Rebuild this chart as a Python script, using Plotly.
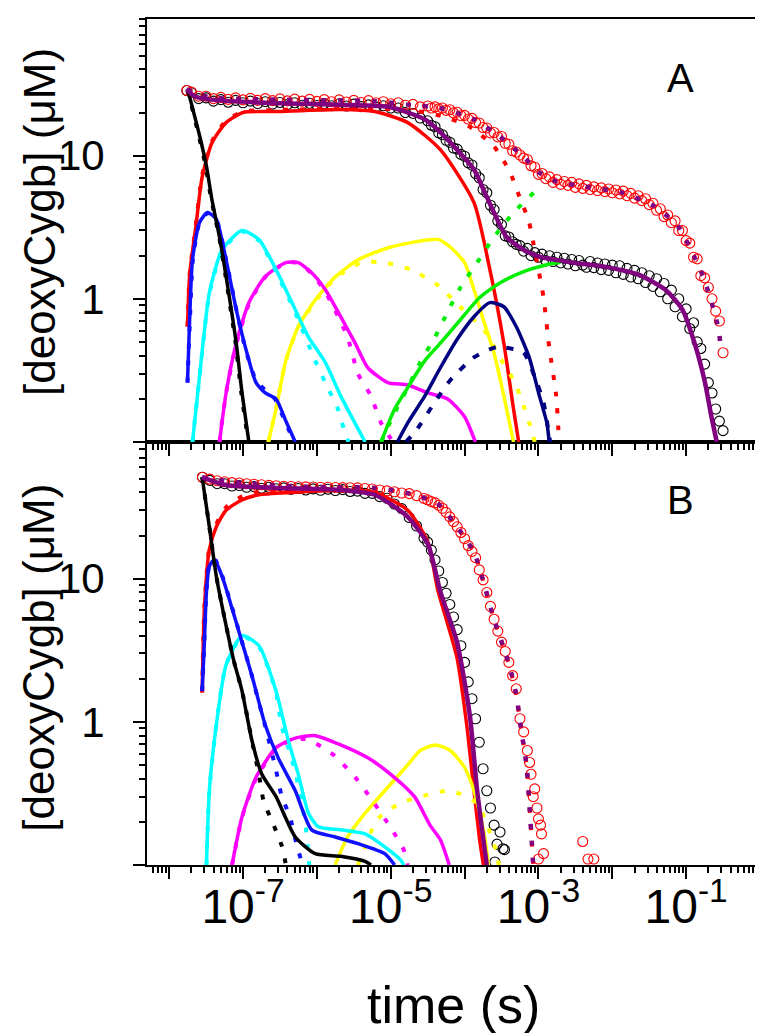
import plotly.graph_objects as go

# ---------------- Panel A data ----------------
t_A_data = [1.74e-8, 2.00e-8, 2.51e-8, 3.16e-8, 3.98e-8, 5.01e-8, 6.31e-8, 7.94e-8,
            1.00e-7, 1.26e-7, 1.58e-7, 2.00e-7, 2.51e-7, 3.16e-7, 3.98e-7, 5.01e-7, 6.31e-7, 7.94e-7,
            1.00e-6, 1.26e-6, 1.58e-6, 2.00e-6, 2.51e-6, 3.16e-6, 3.98e-6, 5.01e-6, 6.31e-6, 7.94e-6,
            1.00e-5, 1.26e-5, 1.58e-5, 2.00e-5, 2.51e-5, 3.16e-5, 3.55e-5, 3.98e-5, 4.47e-5, 5.01e-5,
            5.62e-5, 6.31e-5, 7.08e-5, 7.94e-5, 8.91e-5,
            1.00e-4, 1.12e-4, 1.26e-4, 1.41e-4, 1.58e-4, 1.78e-4, 2.00e-4, 2.24e-4, 2.51e-4, 2.82e-4,
            3.16e-4, 3.55e-4, 3.98e-4, 4.47e-4, 5.01e-4, 5.62e-4, 6.31e-4, 7.08e-4, 7.94e-4, 8.91e-4,
            1.00e-3, 1.12e-3, 1.26e-3, 1.41e-3, 1.58e-3, 1.78e-3, 2.00e-3, 2.24e-3, 2.51e-3, 2.82e-3,
            3.16e-3, 3.55e-3, 3.98e-3, 4.47e-3, 5.01e-3, 5.62e-3, 6.31e-3, 7.08e-3, 7.94e-3, 8.91e-3,
            1.00e-2, 1.12e-2, 1.26e-2, 1.41e-2, 1.58e-2, 1.78e-2, 2.00e-2, 2.24e-2, 2.51e-2, 2.82e-2,
            3.16e-2, 3.55e-2, 3.98e-2, 4.47e-2, 5.01e-2, 5.62e-2, 6.31e-2, 7.08e-2, 7.94e-2, 8.91e-2,
            1.00e-1, 1.12e-1, 1.26e-1, 1.41e-1, 1.58e-1, 1.78e-1, 2.00e-1, 2.24e-1, 2.51e-1, 2.82e-1,
            3.16e-1]

v_A_black_data = [28.5, 27.5, 25.0, 25.3, 24.0, 24.6, 23.6, 24.3,
                  23.4, 24.0, 23.1, 23.8, 22.9, 23.5, 22.7, 23.4, 22.5, 23.2,
                  22.4, 23.1, 22.3, 23.0, 22.2, 22.9, 22.0, 22.6, 21.8, 22.3,
                  21.5, 21.5, 20.0, 19.7, 18.3, 17.5, 16.3, 15.9, 14.4, 14.0,
                  12.8, 12.4, 11.3, 11.1, 10.2,
                  9.9, 8.9, 8.6, 7.5, 7.0, 5.8, 5.5, 4.5, 4.2, 3.5,
                  3.3, 2.75, 2.7, 2.5, 2.4, 2.35, 2.15, 2.25, 2.0, 2.1,
                  1.95, 2.05, 1.85, 2.0, 1.82, 1.95, 1.78, 1.92, 1.75, 1.88,
                  1.7, 1.85, 1.72, 1.66, 1.82, 1.65, 1.78, 1.60, 1.75, 1.58,
                  1.72, 1.52, 1.70, 1.48, 1.63, 1.42, 1.58, 1.38, 1.52, 1.30,
                  1.45, 1.22, 1.38, 1.12, 1.28, 1.0, 1.15, 0.88, 1.0, 0.75,
                  0.85, 0.62, 0.68, 0.5, 0.45, 0.35, 0.26, 0.22, 0.17, 0.14,
                  0.12]

v_A_red_data = [28.5, 27.8, 26.0, 26.0, 25.0, 25.5, 24.7, 25.3,
                24.5, 25.1, 24.3, 25.0, 24.2, 24.9, 24.1, 24.8, 24.0, 24.7,
                23.9, 24.6, 23.8, 24.5, 23.7, 24.3, 23.5, 24.2, 23.4, 23.8,
                23.0, 23.4, 22.5, 22.8, 21.9, 22.2, 21.5, 21.9, 21.2, 21.5,
                20.7, 20.9, 19.9, 20.1, 19.0,
                19.1, 18.0, 18.2, 17.0, 16.9, 15.7, 15.6, 14.4, 14.5, 13.5,
                13.6, 12.2, 12.0, 10.8, 10.6, 10.1, 9.6, 9.4, 8.5, 8.3,
                7.4, 7.5, 6.9, 7.1, 6.5, 6.8, 6.3, 6.6, 6.2, 6.5,
                6.0, 6.35, 5.9, 6.2, 5.8, 6.05, 5.7, 5.95, 5.6, 5.85,
                5.5, 5.75, 5.4, 5.65, 5.25, 5.45, 5.05, 5.25, 4.85, 5.0,
                4.55, 4.65, 4.15, 4.25, 3.75, 3.85, 3.4, 3.5, 3.0, 3.0,
                2.55, 2.45, 1.95, 1.9, 1.45, 1.4, 1.2, 1.0, 0.82, 0.7,
                0.42]

t_A_fit_black = [1.72e-8, 2.2e-8, 3.5e-8, 1.6e-7, 2.0e-6, 9.1e-6, 1.7e-5, 2.9e-5, 4.3e-5, 7.9e-5,
                 1.34e-4, 1.8e-4, 2.5e-4, 3.7e-4, 6.3e-4, 1.03e-3, 2.9e-3, 8.1e-3, 2.3e-2, 5.2e-2,
                 8.9e-2, 0.13, 0.18, 0.22, 0.26]
v_A_fit_black = [29, 26, 24.7, 23.5, 22.7, 22, 20, 17.9, 15.2, 11,
                 8.0, 5.8, 4.0, 2.7, 2.2, 1.97, 1.79, 1.67, 1.47, 1.16,
                 0.84, 0.49, 0.26, 0.15, 0.1]

t_A_fit_red = [1.72e-8, 3.5e-8, 2.8e-7, 6.1e-6, 1.7e-5, 4.7e-5, 1.34e-4, 3.0e-4, 6.3e-4, 1.03e-3,
               1.74e-3, 4.0e-3, 1.38e-2, 3.8e-2, 7.8e-2, 0.12, 0.17, 0.22, 0.27, 0.30]
v_A_fit_red = [29, 25.5, 24.6, 24, 22.7, 21.5, 17.9, 13.6, 9.8, 7.6,
               6.6, 6.1, 5.5, 4.4, 3.2, 2.13, 1.43, 0.95, 0.64, 0.43]

t_A_black = [1.78e-8, 2.6e-8, 3.2e-8, 3.8e-8, 4.8e-8, 5.9e-8, 8.1e-8, 9.7e-8, 1.2e-7]
v_A_black = [29, 13.6, 8.4, 4.9, 2.7, 1.43, 0.49, 0.22, 0.1]
t_A_black_dot = [1.78e-8, 2.5e-8, 3.1e-8, 3.7e-8, 4.7e-8, 5.8e-8, 7.9e-8, 9.5e-8, 1.18e-7]
v_A_black_dot = [29, 14, 8.6, 5.0, 2.8, 1.45, 0.5, 0.22, 0.1]

t_A_red = [1.77e-8, 1.9e-8, 2.3e-8, 2.8e-8, 3.8e-8, 5.9e-8, 1.0e-7, 2.8e-7, 2.1e-6, 6.1e-6,
           1.7e-5, 4.7e-5, 1.34e-4, 2.2e-4, 3.4e-4, 4.6e-4, 5.4e-4]
v_A_red = [0.64, 1.5, 3.2, 7.1, 12.3, 17, 20, 20.3, 21, 20.3,
           17, 11, 4.7, 1.6, 0.49, 0.17, 0.1]
t_A_red_dot = [1.77e-8, 1.9e-8, 2.3e-8, 2.8e-8, 3.8e-8, 5.9e-8, 1.0e-7, 2.8e-7, 2.1e-6, 1.2e-5,
               3.0e-5, 5.2e-5, 1.15e-4, 2.5e-4, 4.1e-4, 5.5e-4, 7.4e-4, 8.6e-4, 1.0e-3, 1.17e-3,
               1.4e-3, 1.74e-3, 1.9e-3]
v_A_red_dot = [0.64, 1.5, 3.3, 7.3, 12.6, 17.5, 20.3, 20.8, 21.3, 21,
               20, 18.7, 16, 11.6, 7.7, 5.2, 3.5, 2.4, 1.6, 1.03,
               0.46, 0.21, 0.1]

t_A_blue = [1.77e-8, 1.88e-8, 2.07e-8, 2.57e-8, 3.3e-8, 4.35e-8, 5.9e-8, 8.1e-8, 1.1e-7, 1.5e-7,
            2.0e-7, 2.8e-7, 3.8e-7, 5.1e-7]
v_A_blue = [0.26, 0.64, 1.87, 3.4, 4.0, 3.6, 1.87, 0.84, 0.44, 0.26,
            0.22, 0.20, 0.14, 0.1]
t_A_blue_dot = [1.77e-8, 1.9e-8, 2.1e-8, 2.6e-8, 3.3e-8, 4.4e-8, 6.0e-8, 8.2e-8, 1.1e-7, 1.5e-7,
                2.0e-7, 2.7e-7, 3.7e-7, 4.9e-7]
v_A_blue_dot = [0.26, 0.66, 1.9, 3.45, 3.95, 3.5, 1.8, 0.82, 0.43, 0.27,
                0.23, 0.2, 0.14, 0.1]

t_A_cyan = [2.07e-8, 2.57e-8, 3.5e-8, 5.2e-8, 9.7e-8, 1.64e-7, 2.8e-7, 5.1e-7, 7.7e-7, 1.3e-6,
            2.1e-6, 4.5e-6]
v_A_cyan = [0.1, 0.285, 1.1, 2.2, 3.0, 2.6, 1.6, 0.84, 0.54, 0.36,
            0.21, 0.1]
t_A_cyan_dot = [2.07e-8, 2.57e-8, 3.5e-8, 5.2e-8, 9.7e-8, 1.64e-7, 2.8e-7, 5.1e-7, 9.5e-7, 1.3e-6,
                1.93e-6, 2.5e-6, 2.7e-6]
v_A_cyan_dot = [0.1, 0.28, 1.08, 2.15, 2.95, 2.55, 1.55, 0.8, 0.37, 0.26,
                0.17, 0.108, 0.1]

t_A_magenta = [4.8e-8, 5.9e-8, 8.1e-8, 1.2e-7, 2.0e-7, 3.8e-7, 5.6e-7, 8.5e-7, 1.3e-6, 2.1e-6,
               3.3e-6, 4.9e-6, 9.1e-6, 1.7e-5, 3.2e-5, 5.9e-5, 1.0e-4, 1.4e-4]
v_A_magenta = [0.1, 0.22, 0.49, 0.94, 1.43, 1.79, 1.79, 1.52, 1.16, 0.75,
               0.49, 0.33, 0.26, 0.25, 0.22, 0.20, 0.15, 0.1]
t_A_magenta_dot = [4.8e-8, 5.9e-8, 8.1e-8, 1.2e-7, 2.0e-7, 3.8e-7, 5.6e-7, 8.5e-7, 1.3e-6, 2.6e-6,
                   3.6e-6, 5.4e-6, 7.4e-6, 1.07e-5]
v_A_magenta_dot = [0.1, 0.22, 0.48, 0.92, 1.42, 1.78, 1.78, 1.5, 1.12, 0.54,
                   0.30, 0.21, 0.136, 0.1]

t_A_yellow = [2.2e-7, 2.8e-7, 3.8e-7, 5.6e-7, 9.5e-7, 1.8e-6, 3.6e-6, 1.0e-5, 4.3e-5, 6.4e-5,
              1.0e-4, 1.34e-4, 1.8e-4, 2.5e-4, 3.4e-4, 4.6e-4]
v_A_yellow = [0.1, 0.17, 0.37, 0.64, 0.98, 1.43, 1.87, 2.3, 2.6, 2.3,
              1.79, 1.16, 0.71, 0.42, 0.21, 0.1]
t_A_yellow_dot = [2.2e-7, 2.8e-7, 3.8e-7, 5.6e-7, 9.5e-7, 1.8e-6, 4.0e-6, 8.3e-6, 1.86e-5, 4.3e-5,
                  8.7e-5, 1.9e-4, 3.0e-4, 4.8e-4, 6.3e-4, 8.1e-4, 8.9e-4]
v_A_yellow_dot = [0.1, 0.17, 0.37, 0.63, 0.96, 1.4, 1.79, 1.79, 1.6, 1.25,
                  0.88, 0.59, 0.39, 0.26, 0.18, 0.12, 0.1]

t_A_green = [7.4e-6, 1.13e-5, 1.7e-5, 2.9e-5, 4.7e-5, 8.7e-5, 1.6e-4, 3.0e-4, 6.3e-4, 1.3e-3, 2.0e-3]
v_A_green = [0.1, 0.17, 0.24, 0.37, 0.49, 0.71, 1.02, 1.29, 1.55, 1.73, 1.8]
t_A_green_dot = [7.4e-6, 1.13e-5, 1.7e-5, 2.5e-5, 3.9e-5, 5.9e-5, 8.7e-5, 1.48e-4, 2.5e-4, 4.6e-4, 8.9e-4]
v_A_green_dot = [0.1, 0.16, 0.24, 0.36, 0.53, 0.81, 1.19, 1.79, 2.7, 4.0, 5.6]

t_A_navy = [1.23e-5, 1.7e-5, 2.9e-5, 4.7e-5, 7.9e-5, 1.34e-4, 2.2e-4, 3.4e-4, 5.0e-4, 7.5e-4,
            1.03e-3, 1.3e-3, 1.4e-3]
v_A_navy = [0.1, 0.136, 0.21, 0.33, 0.52, 0.75, 0.94, 0.88, 0.64, 0.39,
            0.21, 0.136, 0.1]
t_A_navy_dash = [1.6e-5, 2.2e-5, 3.7e-5, 6.4e-5, 1.34e-4, 2.75e-4, 6.3e-4, 8.9e-4, 1.17e-3, 1.35e-3, 1.44e-3]
v_A_navy_dash = [0.1, 0.12, 0.18, 0.27, 0.39, 0.46, 0.42, 0.285, 0.19, 0.125, 0.1]

# ---------------- Panel B data ----------------
t_B_black_data = [2.82e-8, 3.55e-8, 4.47e-8, 5.62e-8, 7.08e-8, 8.91e-8,
                  1.12e-7, 1.41e-7, 1.78e-7, 2.24e-7, 2.82e-7, 3.55e-7, 4.47e-7, 5.62e-7, 7.08e-7, 8.91e-7,
                  1.12e-6, 1.41e-6, 1.78e-6, 2.24e-6, 2.82e-6, 3.55e-6, 4.47e-6, 5.62e-6, 7.08e-6, 8.91e-6,
                  1.12e-5, 1.41e-5, 1.78e-5, 2.24e-5, 2.82e-5,
                  3.16e-5, 3.55e-5, 3.98e-5, 4.47e-5, 5.01e-5, 5.62e-5, 6.31e-5, 7.08e-5, 7.94e-5, 8.91e-5,
                  1.00e-4, 1.12e-4, 1.26e-4, 1.41e-4, 1.58e-4, 1.78e-4, 2.00e-4, 2.24e-4, 2.51e-4,
                  2.57e-4, 2.75e-4, 3.02e-4, 3.31e-4, 3.47e-4]
v_B_black_data = [51, 48.5, 46, 46, 44.3, 44.7,
                  43.4, 43.9, 42.8, 43.4, 42.4, 43.0, 42.0, 42.6, 41.6, 42.3,
                  41.4, 42.1, 41.2, 41.8, 40.6, 40.8, 39.4, 39.4, 37.4, 36.4,
                  33.2, 30.8, 26.7, 23.3, 19.2,
                  18.0, 15.8, 13.5, 11.3, 9.4, 7.9, 6.6, 5.4, 4.4, 3.4,
                  2.6, 1.9, 1.45, 1.05, 0.72, 0.47, 0.33, 0.25, 0.19,
                  0.105, 0.14, 0.17, 0.13, 0.128]

t_B_red_data = [2.82e-8, 3.55e-8, 4.47e-8, 5.62e-8, 7.08e-8, 8.91e-8,
                1.12e-7, 1.41e-7, 1.78e-7, 2.24e-7, 2.82e-7, 3.55e-7, 4.47e-7, 5.62e-7, 7.08e-7, 8.91e-7,
                1.12e-6, 1.41e-6, 1.78e-6, 2.24e-6, 2.82e-6, 3.55e-6, 4.47e-6, 5.62e-6, 7.08e-6, 8.91e-6,
                1.12e-5, 1.41e-5, 1.78e-5, 2.24e-5, 2.82e-5,
                3.16e-5, 3.55e-5, 3.98e-5, 4.47e-5, 5.01e-5, 5.62e-5, 6.31e-5, 7.08e-5, 7.94e-5, 8.91e-5,
                1.00e-4, 1.12e-4, 1.26e-4, 1.41e-4, 1.58e-4, 1.78e-4, 2.00e-4, 2.24e-4, 2.51e-4,
                2.82e-4, 3.16e-4, 3.55e-4, 3.98e-4, 4.47e-4, 5.01e-4, 5.62e-4, 6.31e-4, 7.08e-4,
                7.59e-4, 7.94e-4, 8.51e-4, 8.91e-4, 9.55e-4, 1.00e-3, 1.07e-3, 1.10e-3, 1.17e-3,
                1.00e-3, 3.98e-3, 4.68e-3, 5.62e-3]
v_B_red_data = [51, 49.5, 48.2, 47.5, 46.8, 46.5,
                46.0, 45.6, 45.2, 44.8, 44.5, 44.2, 44.0, 43.8, 43.7, 43.6,
                43.5, 43.4, 43.3, 43.2, 43.1, 43.0, 42.6, 42.2, 41.6, 41.0,
                40.4, 39.6, 39.2, 38.0, 36.3,
                35.5, 34.5, 33.8, 32.5, 31.0, 29.0, 27.0, 25.0, 23.0, 21.0,
                19.0, 17.0, 15.5, 14.0, 11.5, 9.8, 8.0, 6.4, 5.2,
                4.3, 3.6, 3.1, 2.6, 2.1, 1.7, 1.05, 0.85, 0.63,
                0.52, 0.43, 0.3, 0.34, 0.25, 0.21, 0.19, 0.165, 0.12,
                0.11, 0.146, 0.11, 0.11]

t_B_fit_black = [2.8e-8, 5.9e-8, 2.8e-7, 2.1e-6, 6.1e-6, 1.7e-5, 3.2e-5, 4.7e-5, 7.9e-5, 1.18e-4,
                 1.48e-4, 1.8e-4, 2.0e-4]
v_B_fit_black = [51, 45, 43, 41.6, 38.5, 27, 17.3, 8.1, 3.6, 1.1,
                 0.33, 0.15, 0.1]

t_B_fit_red = [2.8e-8, 9.7e-8, 7.7e-7, 6.1e-6, 1.7e-5, 4.3e-5, 7.9e-5, 1.34e-4, 1.8e-4, 2.5e-4,
               3.4e-4, 4.1e-4, 5.0e-4, 5.9e-4, 6.9e-4, 7.6e-4, 8.1e-4, 8.5e-4]
v_B_fit_red = [51, 46.5, 43.7, 43, 39.5, 33.5, 23, 15.3, 9.5, 5.2,
               3.25, 2.4, 1.55, 0.85, 0.5, 0.25, 0.15, 0.1]

t_B_black = [2.8e-8, 3.5e-8, 4.35e-8, 5.9e-8, 7.6e-8, 9.7e-8, 1.32e-7, 1.8e-7, 2.8e-7, 5.1e-7,
             9.5e-7, 2.1e-6, 4.5e-6, 5.4e-6]
v_B_black = [51, 23, 10.4, 4.7, 2.6, 1.64, 0.74, 0.43, 0.30, 0.157,
             0.12, 0.115, 0.106, 0.1]
t_B_black_dot = [2.8e-8, 3.5e-8, 4.35e-8, 5.9e-8, 7.6e-8, 9.7e-8, 1.32e-7, 1.64e-7, 1.9e-7, 2.6e-7,
                 3.45e-7, 3.8e-7]
v_B_black_dot = [51, 23, 10.4, 4.7, 2.6, 1.64, 0.74, 0.43, 0.28, 0.19,
                 0.13, 0.1]

t_B_red = [2.8e-8, 3.0e-8, 3.5e-8, 4.35e-8, 5.9e-8, 9.7e-8, 1.64e-7, 4.6e-7, 2.1e-6, 6.1e-6,
           1.7e-5, 3.2e-5, 4.3e-5, 7.9e-5, 1.07e-4, 1.34e-4, 1.6e-4, 1.8e-4]
v_B_red = [1.6, 6.2, 16, 23, 30, 35.5, 38.5, 40, 41.6, 40,
           30, 17.9, 8.5, 2.8, 0.95, 0.33, 0.15, 0.1]
t_B_red_dot = [2.8e-8, 3.0e-8, 3.5e-8, 4.35e-8, 5.9e-8, 9.7e-8, 1.64e-7, 4.6e-7, 2.1e-6, 6.1e-6,
               1.7e-5, 4.3e-5, 7.9e-5, 1.34e-4, 1.8e-4, 2.5e-4, 3.4e-4, 4.1e-4, 5.0e-4, 5.9e-4,
               6.9e-4, 7.6e-4, 8.1e-4, 8.5e-4]
v_B_red_dot = [1.6, 6.3, 16.5, 24, 31.5, 37.5, 40.5, 42, 43, 42.5,
               39.5, 33.5, 23, 15.3, 9.5, 5.2, 3.25, 2.4, 1.55, 0.85,
               0.5, 0.25, 0.15, 0.1]

t_B_blue = [2.8e-8, 3.0e-8, 3.2e-8, 3.5e-8, 4.1e-8, 5.2e-8, 7.1e-8, 9.7e-8, 1.32e-7, 1.5e-7,
            2.0e-7, 3.0e-7, 5.1e-7, 8.5e-7, 1.77e-6, 3.6e-6, 8.3e-6, 1.13e-5]
v_B_blue = [1.64, 3.6, 8.1, 12.2, 13.6, 10.4, 6.2, 3.6, 2.1, 1.64,
            0.95, 0.56, 0.33, 0.176, 0.157, 0.141, 0.12, 0.1]
t_B_blue_dot = [2.8e-8, 3.0e-8, 3.2e-8, 3.5e-8, 4.1e-8, 5.2e-8, 7.1e-8, 9.7e-8, 1.32e-7, 1.5e-7,
                2.0e-7, 2.8e-7, 3.3e-7, 4.4e-7, 5.3e-7, 6.4e-7]
v_B_blue_dot = [1.64, 3.7, 8.3, 12.4, 13.8, 10.5, 6.3, 3.6, 2.1, 1.62,
                0.93, 0.46, 0.31, 0.21, 0.14, 0.1]

t_B_cyan = [3.2e-8, 3.5e-8, 4.35e-8, 5.9e-8, 9.7e-8, 1.64e-7, 2.8e-7, 4.1e-7, 5.6e-7, 7.7e-7,
            1.05e-6, 2.1e-6, 4.5e-6, 8.3e-6, 1.35e-5, 1.5e-5]
v_B_cyan = [0.1, 0.33, 0.95, 2.5, 4.0, 3.4, 1.64, 0.74, 0.43, 0.23,
            0.185, 0.176, 0.165, 0.134, 0.109, 0.1]
t_B_cyan_dot = [3.2e-8, 3.5e-8, 4.35e-8, 5.9e-8, 9.7e-8, 1.64e-7, 2.8e-7, 3.3e-7, 4.4e-7, 5.3e-7,
                6.2e-7, 7.2e-7, 7.9e-7]
v_B_cyan_dot = [0.1, 0.33, 0.95, 2.5, 3.95, 3.35, 1.6, 0.95, 0.59, 0.41,
                0.28, 0.17, 0.1]

t_B_magenta = [7.1e-8, 9.7e-8, 1.5e-7, 2.8e-7, 5.1e-7, 9.5e-7, 2.1e-6, 4.9e-6, 1.0e-5, 2.1e-5,
               3.4e-5, 4.7e-5, 6.2e-5]
v_B_magenta = [0.1, 0.217, 0.41, 0.66, 0.77, 0.80, 0.69, 0.56, 0.43, 0.30,
               0.19, 0.15, 0.1]
t_B_magenta_dot = [7.1e-8, 9.7e-8, 1.5e-7, 2.8e-7, 5.1e-7, 7.7e-7, 1.66e-6, 3.3e-6, 5.7e-6, 9.8e-6,
                   1.5e-5, 1.7e-5]
v_B_magenta_dot = [0.1, 0.215, 0.4, 0.65, 0.76, 0.75, 0.59, 0.41, 0.28, 0.185,
                   0.128, 0.1]

t_B_yellow = [1.77e-6, 2.6e-6, 4.5e-6, 8.3e-6, 1.7e-5, 2.5e-5, 4.0e-5, 6.4e-5, 1.0e-4, 1.34e-4,
              1.6e-4, 1.9e-4, 2.1e-4]
v_B_yellow = [0.1, 0.157, 0.23, 0.33, 0.50, 0.63, 0.69, 0.63, 0.48, 0.33,
              0.23, 0.15, 0.1]
t_B_yellow_dot = [3.6e-6, 6.7e-6, 1.35e-5, 3.2e-5, 6.4e-5, 1.48e-4, 2.1e-4, 2.75e-4, 2.9e-4]
v_B_yellow_dot = [0.1, 0.21, 0.27, 0.31, 0.33, 0.27, 0.18, 0.12, 0.1]

# ---------------- axis labels ----------------
x_tick_exponents = [-8, -7, -6, -5, -4, -3, -2, -1, 0]
x_labeled_exponents = [-7, -5, -3, -1]
y_tick_values = [0.1, 1, 10]
y_tick_labels = ["", "1", "10"]
y_title = "[deoxyCygb] (μM)"
x_title = "time (s)"
panel_labels = ["A", "B"]

# ---------------- styling ----------------
FONT = "Liberation Sans, Arial, sans-serif"
C_BLACK = "#000000"
C_RED = "#ff0000"
C_BLUE = "#1010ff"
C_CYAN = "#00ffff"
C_MAGENTA = "#ff00ff"
C_YELLOW = "#ffff00"
C_GREEN = "#00ee00"
C_NAVY = "#000080"
C_PURPLE = "#800080"
DOT = "5px,12px"
DASH = "7px,11px"
LW = 3.5

fig = go.Figure()


def circles(t, v, color, xa, ya):
    fig.add_trace(go.Scatter(x=t, y=v, mode="markers", xaxis=xa, yaxis=ya,
                             marker=dict(symbol="circle-open", size=10, color=color,
                                         line=dict(width=1.1, color=color)),
                             showlegend=False, hoverinfo="skip"))


def curve(t, v, color, xa, ya, dash="solid", width=LW):
    fig.add_trace(go.Scatter(x=t, y=v, mode="lines", xaxis=xa, yaxis=ya,
                             line=dict(color=color, width=width, dash=dash,
                                       shape="spline", smoothing=0.6),
                             showlegend=False, hoverinfo="skip"))


# Panel A (top): x2 / y
xa, ya = "x2", "y"
circles(t_A_data, v_A_black_data, C_BLACK, xa, ya)
circles(t_A_data, v_A_red_data, C_RED, xa, ya)
curve(t_A_red, v_A_red, C_RED, xa, ya)
curve(t_A_red_dot, v_A_red_dot, C_RED, xa, ya, DOT, 4)
curve(t_A_yellow, v_A_yellow, C_YELLOW, xa, ya)
curve(t_A_yellow_dot, v_A_yellow_dot, C_YELLOW, xa, ya, DOT, 4)
curve(t_A_magenta, v_A_magenta, C_MAGENTA, xa, ya)
curve(t_A_magenta_dot, v_A_magenta_dot, C_MAGENTA, xa, ya, DOT, 4)
curve(t_A_cyan, v_A_cyan, C_CYAN, xa, ya)
curve(t_A_cyan_dot, v_A_cyan_dot, C_CYAN, xa, ya, DOT, 4)
curve(t_A_green, v_A_green, C_GREEN, xa, ya)
curve(t_A_green_dot, v_A_green_dot, C_GREEN, xa, ya, DOT, 4)
curve(t_A_navy, v_A_navy, C_NAVY, xa, ya)
curve(t_A_navy_dash, v_A_navy_dash, C_NAVY, xa, ya, DASH, 4)
curve(t_A_blue, v_A_blue, C_BLUE, xa, ya)
curve(t_A_blue_dot, v_A_blue_dot, C_BLUE, xa, ya, DOT, 4)
curve(t_A_black, v_A_black, C_BLACK, xa, ya)
curve(t_A_black_dot, v_A_black_dot, C_BLACK, xa, ya, DOT, 4)
curve(t_A_fit_black, v_A_fit_black, C_PURPLE, xa, ya, "solid", 4.5)
curve(t_A_fit_red, v_A_fit_red, C_PURPLE, xa, ya, DOT, 4.5)

# Panel B (bottom): x / y2
xa, ya = "x", "y2"
circles(t_B_black_data, v_B_black_data, C_BLACK, xa, ya)
circles(t_B_red_data, v_B_red_data, C_RED, xa, ya)
curve(t_B_red, v_B_red, C_RED, xa, ya)
curve(t_B_red_dot, v_B_red_dot, C_RED, xa, ya, DOT, 4)
curve(t_B_yellow, v_B_yellow, C_YELLOW, xa, ya)
curve(t_B_yellow_dot, v_B_yellow_dot, C_YELLOW, xa, ya, DOT, 4)
curve(t_B_magenta, v_B_magenta, C_MAGENTA, xa, ya)
curve(t_B_magenta_dot, v_B_magenta_dot, C_MAGENTA, xa, ya, DOT, 4)
curve(t_B_cyan, v_B_cyan, C_CYAN, xa, ya)
curve(t_B_cyan_dot, v_B_cyan_dot, C_CYAN, xa, ya, DOT, 4)
curve(t_B_blue, v_B_blue, C_BLUE, xa, ya)
curve(t_B_blue_dot, v_B_blue_dot, C_BLUE, xa, ya, DOT, 4)
curve(t_B_black, v_B_black, C_BLACK, xa, ya)
curve(t_B_black_dot, v_B_black_dot, C_BLACK, xa, ya, DOT, 4)
curve(t_B_fit_black, v_B_fit_black, C_PURPLE, xa, ya, "solid", 4.5)
curve(t_B_fit_red, v_B_fit_red, C_PURPLE, xa, ya, DOT, 4.5)

# ---------------- axes ----------------
x_major = [10.0 ** e for e in x_tick_exponents]
x_text = [("10<sup>%d</sup>" % e) if e in x_labeled_exponents else "" for e in x_tick_exponents]
x_minor = [k * 10.0 ** e for e in range(-9, 0) for k in range(2, 10)]
y_minor = [k * 10.0 ** e for e in range(-1, 2) for k in range(2, 10)]

common_x = dict(type="log", range=[-8.3, 0], showline=True, linecolor="black", linewidth=2,
                mirror=True, ticks="outside", ticklen=12, tickwidth=2, tickcolor="black",
                tickmode="array", tickvals=x_major, ticktext=x_text, showgrid=False, zeroline=False,
                minor=dict(tickmode="array", tickvals=x_minor, ticks="outside", ticklen=6,
                           tickwidth=1.5, tickcolor="black", showgrid=False))
common_y = dict(type="log", range=[-1, 1.954], showline=True, linecolor="black", linewidth=2,
                mirror=True, ticks="outside", ticklen=12, tickwidth=2, tickcolor="black",
                tickmode="array", tickvals=y_tick_values, ticktext=y_tick_labels,
                showgrid=False, zeroline=False,
                tickfont=dict(family=FONT, size=42, color="black"), ticklabelstandoff=20,
                minor=dict(tickmode="array", tickvals=y_minor, ticks="outside", ticklen=6,
                           tickwidth=1.5, tickcolor="black", showgrid=False))

fig.update_layout(
    width=763, height=1033,
    margin=dict(l=139, r=10, t=9, b=176),
    paper_bgcolor="white", plot_bgcolor="white",
    font=dict(family=FONT, color="black"),
    showlegend=False,
    xaxis=dict(common_x, anchor="y2", domain=[0, 1], showticklabels=True,
               tickfont=dict(family=FONT, size=48, color="black"), ticklabelstandoff=-14),
    xaxis2=dict(common_x, anchor="y", domain=[0, 1], matches="x", showticklabels=False),
    yaxis=dict(common_y, anchor="x2", domain=[0.5, 1]),
    yaxis2=dict(common_y, anchor="x", domain=[0, 0.5]),
)

annotations = []
for yc in (0.76, 0.245):
    annotations.append(dict(text=y_title, xref="paper", yref="paper", x=0, y=yc,
                            xanchor="center", yanchor="middle", xshift=-108, textangle=-90,
                            showarrow=False, font=dict(family=FONT, size=44, color="black")))
annotations.append(dict(text=x_title, xref="paper", yref="paper", x=0.5, y=-0.165,
                        xanchor="center", yanchor="middle", showarrow=False,
                        font=dict(family=FONT, size=52, color="black")))
annotations.append(dict(text=panel_labels[0], xref="paper", yref="paper", x=0.87, y=0.93,
                        xanchor="center", yanchor="middle", showarrow=False,
                        font=dict(family=FONT, size=40, color="black")))
annotations.append(dict(text=panel_labels[1], xref="paper", yref="paper", x=0.87, y=0.432,
                        xanchor="center", yanchor="middle", showarrow=False,
                        font=dict(family=FONT, size=40, color="black")))
fig.update_layout(annotations=annotations)

fig.write_html("out.html")
